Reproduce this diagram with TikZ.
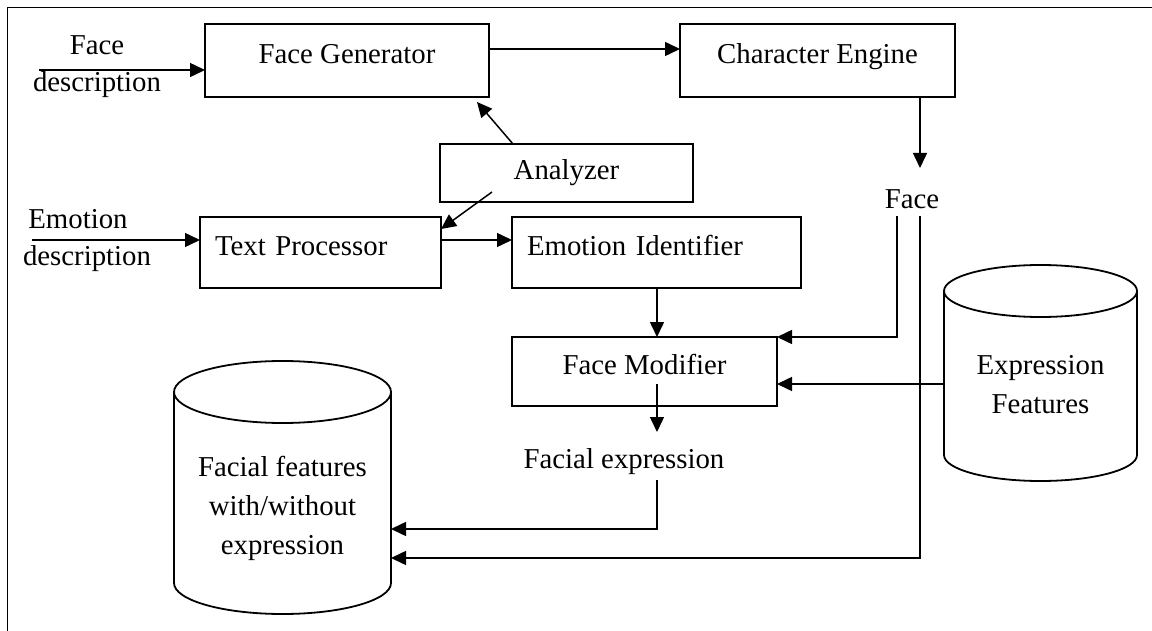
\documentclass[tikz,border=0pt]{standalone}
\usepackage{fontspec}
\setmainfont{Liberation Serif}
\usetikzlibrary{arrows.meta,calc}
\begin{document}
\begin{tikzpicture}[x=0.5pt,y=-0.5pt,
  every node/.style={font=\fontsize{14.4}{19.5}\selectfont},
  box/.style={draw, line width=1pt, inner sep=0pt, outer sep=0pt, align=center},
  up/.style={text height=10pt, text depth=7pt},
  lbox/.style={draw, line width=1pt, inner ysep=0pt, inner xsep=7.5pt, outer sep=0pt, align=left, text height=10pt, text depth=7pt},
  lbl/.style={inner sep=0pt, outer sep=0pt, align=center},
  conn/.style={line width=0.75pt, -{Triangle[length=7.5pt,width=7pt]}},
  dbline/.style={line width=0.9pt}]
\useasboundingbox (0,0) rectangle (1152,631);
% frame
\draw[line width=0.8pt] (7.5,631) -- (7.5,7.5) -- (1152,7.5);

% boxes
\node[box, up, minimum width=142pt, minimum height=36.5pt] (fg) at (347,60.5) {Face Generator};
\node[box, up, minimum width=137.5pt, minimum height=36.5pt] (ce) at (817.5,60.5) {Character Engine};
\node[box, minimum width=126.5pt, minimum height=29pt] (an) at (566.5,173) {Analyzer};
\node[lbox, text width=105.5pt, minimum height=35.5pt] (tp) at (320.5,252.5) {Text Processor};
\node[lbox, text width=129.5pt, minimum height=35.5pt] (ei) at (656.5,252.5) {Emotion Identifier};
\node[box, up, minimum width=132.5pt, minimum height=34.5pt] (fm) at (644.5,371.5) {Face Modifier};

% cylinders
\draw[dbline] (282.5,392) ellipse [x radius=54.25pt, y radius=15.5pt];
\draw[dbline] (174,392) -- (174,583) arc[start angle=180, end angle=360, x radius=54.25pt, y radius=15.5pt] -- (391,392);
\node[lbl, minimum width=108.5pt] (ffdb) at (282.5,508) {Facial features\\with/without\\expression};

\draw[dbline] (1040.5,291) ellipse [x radius=48.25pt, y radius=13pt];
\draw[dbline] (944,291) -- (944,455) arc[start angle=180, end angle=360, x radius=48.25pt, y radius=13pt] -- (1137,291);
\node[lbl, minimum width=96.5pt] (efdb) at (1040.5,384.5) {Expression\\Features};

% free labels
\node[lbl] (facetxt) at (97,45) {Face};
\node[lbl] (facedesc) at (97,85) {description};
\node[lbl] (emotxt) at (78,219) {Emotion};
\node[lbl] (emodesc) at (87,259) {description};
\node[lbl] (face) at (912,199) {Face};
\node[lbl] (fexp) at (624,462) {Facial expression};

% coordinates
\coordinate (fdin) at (39,70);
\coordinate (edin) at (32,240);
\coordinate (facetop) at (920,168);
\coordinate (fA) at (897,216);
\coordinate (fB) at (920,216);
\coordinate (fmout) at (657,384);
\coordinate (fexptop) at (657,432);
\coordinate (fexpout) at (657,480);
\coordinate (anout1) at (513,144);
\coordinate (fgin) at (477,102);
\coordinate (anout2) at (492,192);

% connectors
\draw[conn] (fdin) -- (fdin -| fg.west);
\draw[conn] (edin) -- (edin -| tp.west);
\draw[conn] (fg.east |- 0,49) -- (ce.west |- 0,49);
\draw[conn] (ce.south -| facetop) -- (facetop);
\draw[conn] (anout1) -- (fgin);
\draw[conn] (anout2) -- (tp.east |- 0,229);
\draw[conn] (tp.east |- 0,240) -- (ei.west |- 0,240);
\draw[conn] (ei.south -| fmout) -- (fm.north -| fmout);
\draw[conn] (fA) |- (fm.north east);
\draw[conn] (efdb.west |- 0,384) -- (fm.east |- 0,384);
\draw[conn] (fmout) -- (fexptop);
\draw[conn] (fexpout) |- (ffdb.east |- 0,529);
\draw[conn] (fB) |- (ffdb.east |- 0,558);
\end{tikzpicture}
\end{document}
